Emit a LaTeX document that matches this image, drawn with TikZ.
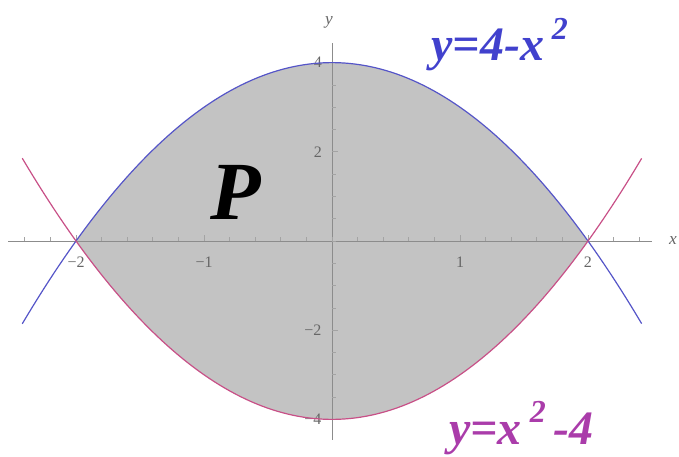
\documentclass[tikz,border=0pt]{standalone}
\usepackage{fontspec}
\setmainfont{Liberation Serif}
\definecolor{fillgray}{RGB}{195,195,195}
\definecolor{bluec}{RGB}{85,85,200}
\definecolor{redc}{RGB}{200,80,135}
\definecolor{bluelab}{RGB}{65,65,205}
\definecolor{purplab}{RGB}{170,60,170}
\definecolor{axisgray}{RGB}{140,140,140}
\begin{document}
\begin{tikzpicture}[x=96pt,y=33.45pt,
  axisline/.style={draw=axisgray,line width=0.7pt},
  tickline/.style={draw=axisgray!80,line width=0.5pt},
  ticklab/.style={text=gray!80!black,font=\fontsize{12}{12}\selectfont,inner sep=0pt},
  curve/.style={line width=0.9pt},
  biglab/.style={font=\fontsize{36}{36}\selectfont\bfseries\itshape,inner sep=0pt}]
\useasboundingbox (-2.594,-4.821) rectangle (2.711,5.404);
% region
\fill[fillgray] plot[domain=-2:2,samples=120] (\x,{4-\x*\x})
  -- plot[domain=2:-2,samples=120] (\x,{\x*\x-4}) -- cycle;
% axes
\coordinate (xl) at (-2.53,0); \coordinate (xr) at (2.5,0);
\coordinate (yb) at (0,-4.46); \coordinate (yt) at (0,4.44);
\draw[axisline] (xl) -- (xr);
\draw[axisline] (yb) -- (yt);
% x ticks
\foreach \t in {-2.4,-2.2,...,2.45} \draw[tickline] (\t,0) -- ++(0,3pt);
\foreach \t in {-2,-1,1,2} \draw[tickline] (\t,0) -- ++(0,4.5pt);
% y ticks
\foreach \t in {-4,-3.5,...,4.1} \draw[tickline] (0,\t) -- ++(3pt,0);
\foreach \t in {-4,-2,2,4} \draw[tickline] (0,\t) -- ++(4.5pt,0);
% tick labels
\node[ticklab] (xm2) at (-2,-0.47) {−2};
\node[ticklab] (xm1) at (-1,-0.47) {−1};
\node[ticklab] (xp1) at (1,-0.47) {1};
\node[ticklab] (xp2) at (2,-0.47) {2};
\node[ticklab] (y4) at (-0.11,4) {4};
\node[ticklab] (y2) at (-0.11,2) {2};
\node[ticklab] (ym2) at (-0.15,-2) {−2};
\node[ticklab] (ym4) at (-0.15,-4) {−4};
\node[ticklab,font=\fontsize{13}{13}\selectfont\itshape] (xlab) at (2.664,0) {x};
\node[ticklab,font=\fontsize{13}{13}\selectfont\itshape] (ylab) at (-0.023,4.91) {y};
% curves
\draw[curve,bluec] plot[domain=-2.42:2.42,samples=120] (\x,{4-\x*\x});
\draw[curve,redc] plot[domain=-2.42:2.42,samples=120] (\x,{\x*\x-4});
% labels
\node[biglab,text=black,font=\fontsize{62}{62}\selectfont\bfseries\itshape] (P) at (-0.75,1.1) {P};
\node[biglab,text=bluelab] (lab1) at (1.31,4.4) {y=4-x\,\raisebox{0.45em}{\fontsize{24}{24}\selectfont 2}};
\node[biglab,text=purplab] (lab2) at (1.48,-4.2) {y=x\,\raisebox{0.45em}{\fontsize{24}{24}\selectfont 2}\,-4};
\end{tikzpicture}
\end{document}
